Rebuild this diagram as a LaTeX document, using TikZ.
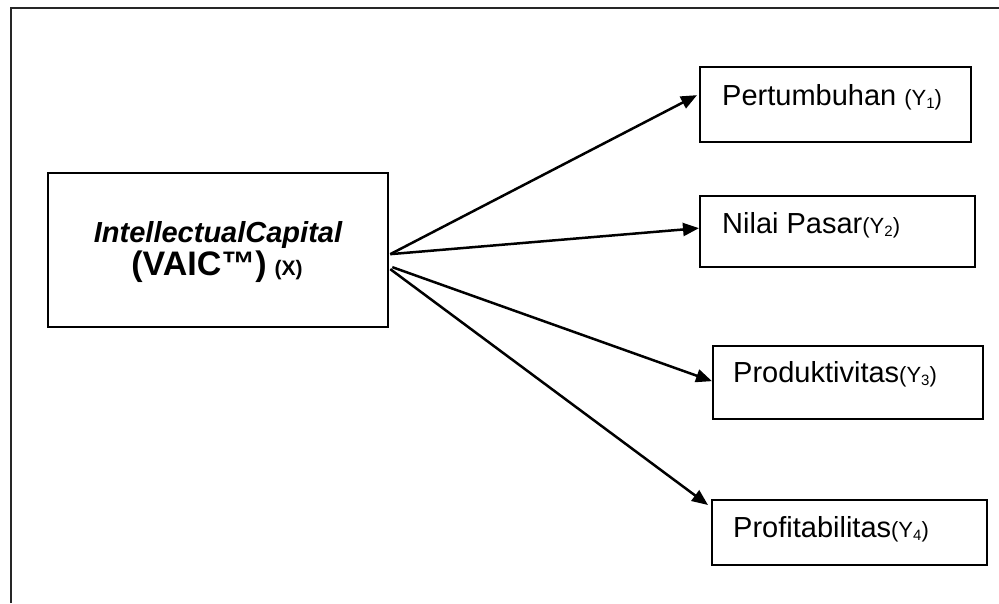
\documentclass[tikz,border=0pt]{standalone}
\usepackage{fontspec}
\setmainfont{Liberation Sans}
\usetikzlibrary{arrows.meta,calc}
\newcommand\subY[1]{{\fontsize{22}{22}\selectfont(Y\raisebox{-3pt}{\fontsize{15}{15}\selectfont #1})}}
\tikzset{
 frameline/.style={draw=black!85,line width=2.4pt},
 boxnode/.style={draw=black,line width=2.3pt,inner sep=0pt,anchor=north west},
 lbl/.style={inner sep=0pt,anchor=base west,font=\fontsize{29}{33}\selectfont},
 mainlbl/.style={inner sep=0pt,anchor=base,font=\fontsize{29}{33}\selectfont\bfseries},
 conn/.style={line width=2.5pt,-{Triangle[length=16pt,width=13pt]}},
}
\begin{document}
\begin{tikzpicture}[x=1pt,y=-1pt]
\useasboundingbox (0,0) rectangle (999,603);
\fill[white] (0,0) rectangle (999,603);
\draw[frameline] (11,603) -- (11,8) -- (999,8);
% boxes
\node[boxnode,minimum width=340pt,minimum height=154pt] (x) at (47,172) {};
\node[boxnode,minimum width=271pt,minimum height=75pt] (y1) at (699,66) {};
\node[boxnode,minimum width=275pt,minimum height=71pt] (y2) at (699,195) {};
\node[boxnode,minimum width=270pt,minimum height=73pt] (y3) at (712,345) {};
\node[boxnode,minimum width=275pt,minimum height=65pt] (y4) at (711,499) {};
% texts
\node[mainlbl] (xt1) at (218,242) {\itshape IntellectualCapital};
\node[mainlbl] (xt2) at (217,275) {{\fontsize{34}{34}\selectfont(VAIC™)} {\fontsize{21}{21}\selectfont(X)}};
\node[lbl] (t1) at (722,105) {Pertumbuhan \subY{1}};
\node[lbl] (t2) at (722,233) {Nilai Pasar\subY{2}};
\node[lbl] (t3) at (733,382) {Produktivitas\subY{3}};
\node[lbl] (t4) at (733,537) {Profitabilitas\subY{4}};
% connectors
\draw[conn] ($(x.east)+(1,4)$) -- ($(y1.west)+(-2,-9.5)$);
\draw[conn] ($(x.east)+(1,4)$) -- ($(y2.west)+(0,-3.5)$);
\draw[conn] ($(x.east)+(3,17)$) -- ($(y3.west)+(0,-1.5)$);
\draw[conn] ($(x.east)+(1,19)$) -- ($(y4.north west)+(-3,6)$);
\end{tikzpicture}
\end{document}
